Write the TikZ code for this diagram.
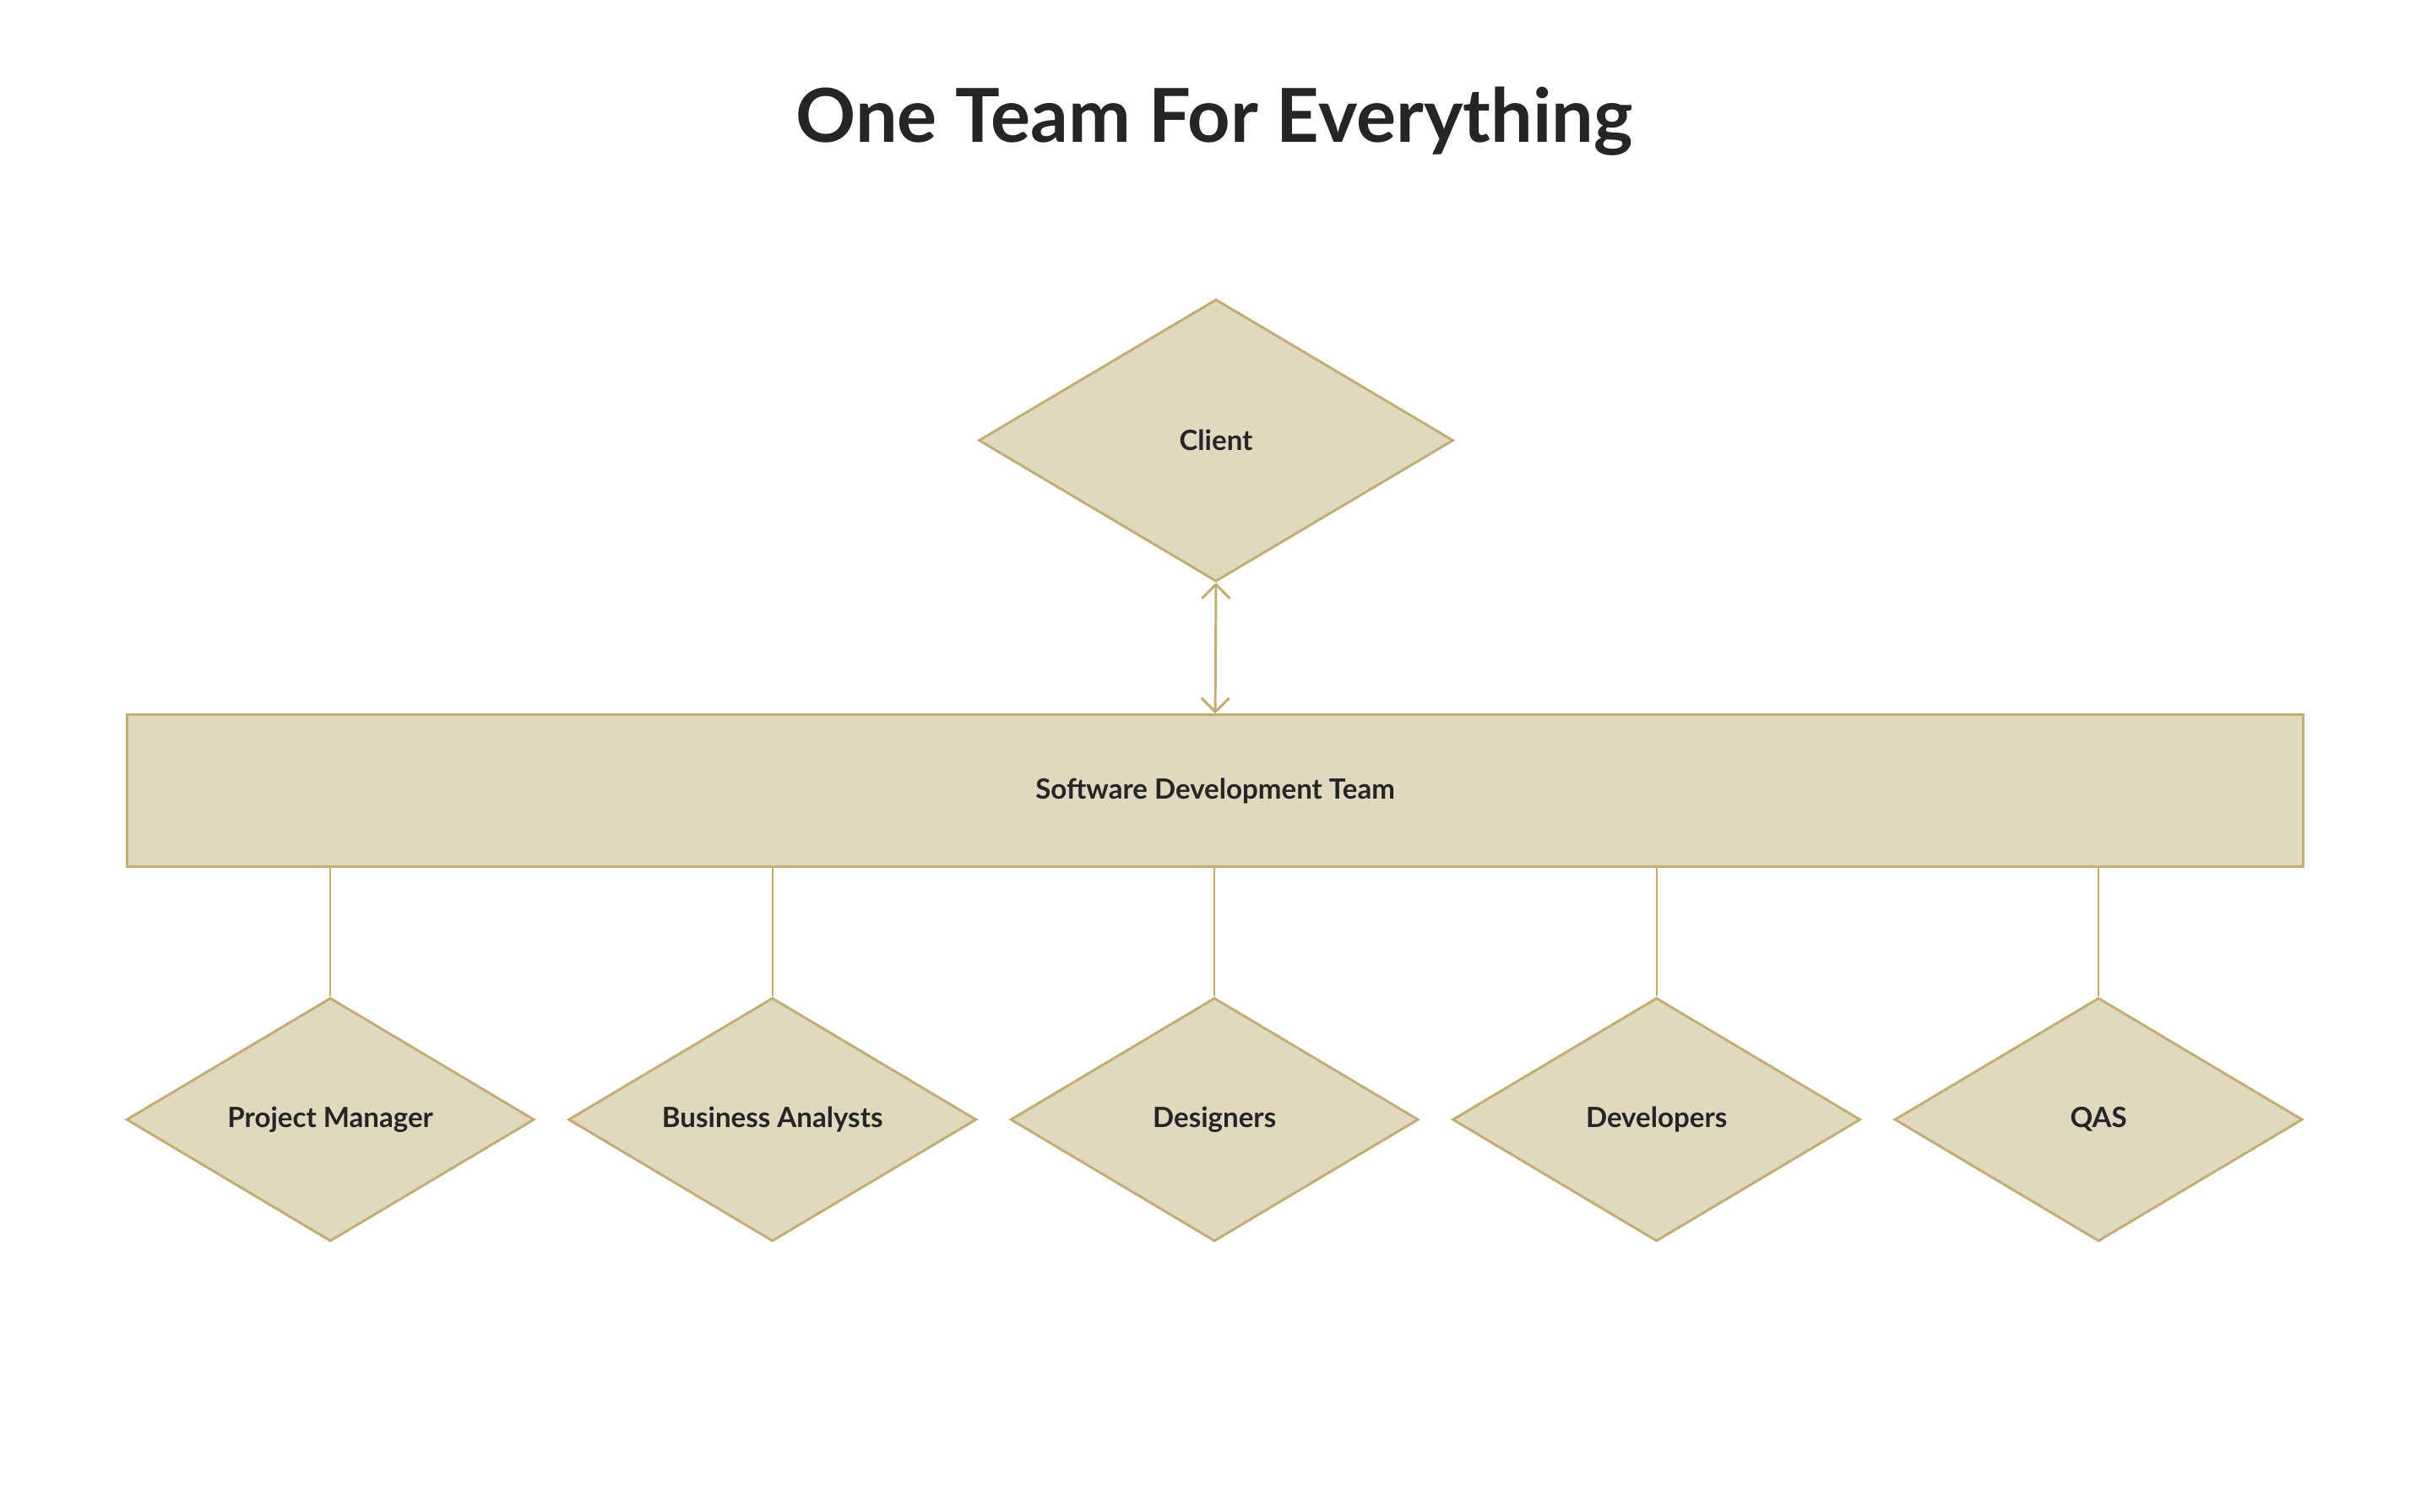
\documentclass[tikz,border=0pt]{standalone}
\usepackage{fontspec}
\setmainfont{Lato}
\usetikzlibrary{shapes.geometric,arrows.meta}
\definecolor{fillc}{HTML}{E1D8BF}
\definecolor{linec}{HTML}{C2AD72}
\definecolor{txt}{HTML}{252525}
\begin{document}
\begin{tikzpicture}[x=1pt,y=-1pt,
  dia/.style={diamond,draw=linec,fill=fillc,line width=1.6pt,minimum width=#1,inner sep=0pt,aspect=1.68,font=\bfseries\fontsize{18}{20}\selectfont,text=txt},
  conn/.style={draw=linec,line width=1pt}]
\useasboundingbox (0,0) rectangle (1568,975);
\node[font=\bfseries\fontsize{48}{56}\selectfont,text=txt] (title) at (783,78) {One Team For Everything};
\node[diamond,draw=linec,fill=fillc,line width=1.6pt,minimum width=306pt,minimum height=182pt,inner sep=0pt,aspect=1.68,font=\bfseries\fontsize{18}{20}\selectfont,text=txt] (client) at (784,284) {Client};
\node[draw=linec,fill=fillc,line width=1.6pt,minimum width=1403pt,minimum height=98pt,inner sep=0pt,font=\bfseries\fontsize{18}{20}\selectfont,text=txt] (team) at (783.5,510) {Software Development Team};
\draw[linec,line width=1.6pt,{Straight Barb[length=9pt,width=18pt]}-{Straight Barb[length=9pt,width=18pt]}] (client.south) -- (team.north);
\foreach \n/\x/\t in {pm/213/Project Manager,ba/498/Business Analysts,de/783/Designers,dv/1068/Developers,qa/1353/QAS}{
  \node[diamond,draw=linec,fill=fillc,line width=1.6pt,minimum width=263pt,minimum height=157pt,inner sep=0pt,aspect=1.68,font=\bfseries\fontsize{18}{20}\selectfont,text=txt] (\n) at (\x,722) {\t};
  \draw[conn] (\n.north) -- (\n.north |- team.south);
}
\end{tikzpicture}
\end{document}
